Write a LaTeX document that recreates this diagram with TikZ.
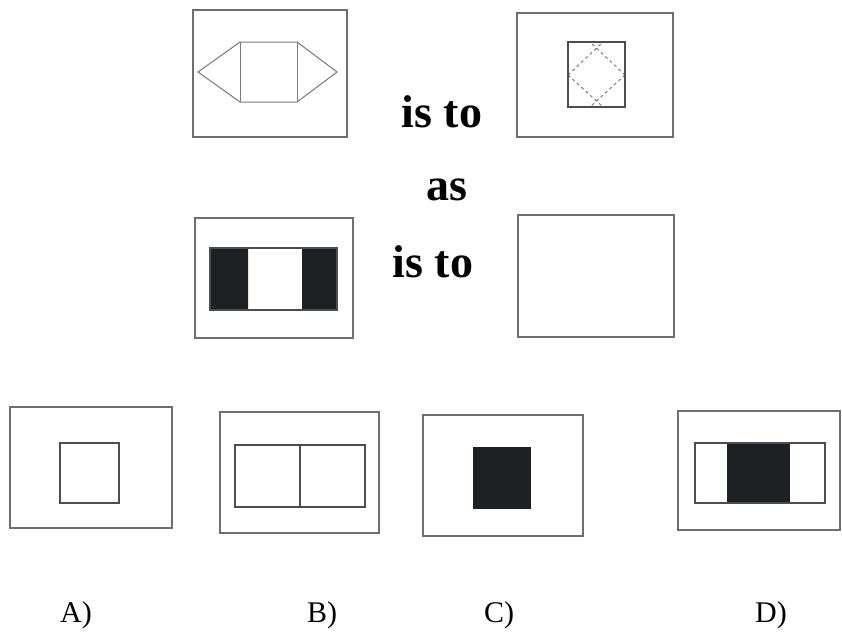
\documentclass[tikz,border=0pt]{standalone}
\usepackage{fontspec}
\setmainfont{Liberation Serif}
\usepackage{tikz}
\usetikzlibrary{positioning}
\usepackage{xcolor}
\definecolor{framegray}{HTML}{6E6E6E}
\definecolor{linegray}{HTML}{7A7A7A}
\definecolor{inkdark}{HTML}{1E2124}

\begin{document}
\begin{tikzpicture}[x=1pt,y=-1pt,
    frame/.style={framegray,line width=1.1pt},
    figline/.style={inkdark!80,line width=1.6pt},
    faint/.style={linegray,line width=1pt},
    word/.style={anchor=base,font=\fontsize{46}{50}\selectfont\bfseries,inner sep=0pt},
    choice/.style={anchor=base,font=\fontsize{30}{34}\selectfont,inner sep=0pt}]
        \useasboundingbox(0,0)rectangle(842,637);
        % first pair
        \draw[frame](193,10)rectangle(347,137);
        \draw[faint](198,72)--(240,42)--(297,42)--(337,72)--(297,102)--(240,102)--cycle;
        \draw[faint](240,42)--(240,102) (297,42)--(297,102);
        \draw[frame](517,13)rectangle(673,137);
        \draw[faint,dashed](568,75)--(603,42) (625,75)--(590,42)
          (568,75)--(603,107) (625,75)--(590,107);
        \draw[figline](568,42)rectangle(625,107);
        \node[word](isto1)at(442,127){is to};
        \node[word](as)at(447,200){as};
        % second pair
        \draw[frame](195,218)rectangle(353,338);
        \fill[inkdark](210,248)rectangle(248,310) (302,248)rectangle(337,310);
        \draw[figline](210,248)rectangle(337,310);
        \node[word](isto2)at(433,277){is to};
        \draw[frame](518,215)rectangle(674,337);
        % choices
        \draw[frame](10,407)rectangle(172,528);
        \draw[figline](60,443)rectangle(119,503);
        \draw[frame](220,412)rectangle(379,533);
        \draw[figline](235,445)rectangle(365,507) (300,445)--(300,507);
        \draw[frame](423,415)rectangle(583,536);
        \fill[inkdark](473,447)rectangle(531,509);
        \draw[frame](678,411)rectangle(840,530);
        \fill[inkdark](727,443)rectangle(790,503);
        \draw[figline](695,443)rectangle(825,503);
        \node[choice](optA)at(76,622){A)};
        \node[choice](optB)at(322,622){B)};
        \node[choice](optC)at(499,622){C)};
        \node[choice](optD)at(771,622){D)};
      \end{tikzpicture}
\end{document}
